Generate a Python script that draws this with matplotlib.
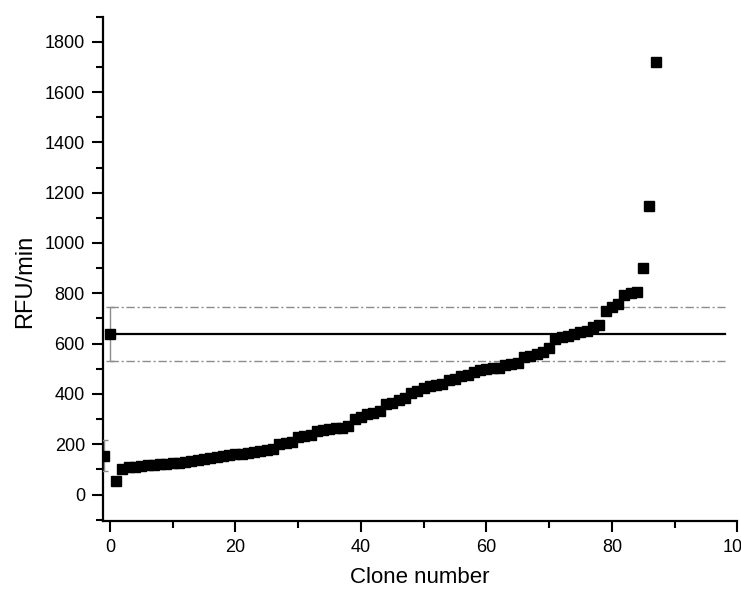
import numpy as np
import matplotlib.pyplot as plt
from matplotlib.ticker import MultipleLocator

# activity of each clone, sorted ascending (RFU/min)
clone_rfu = [55, 100, 108, 110, 113, 116, 118, 121, 123, 125,
             127, 130, 134, 138, 141, 144, 148, 152, 156, 160,
             163, 166, 170, 173, 177, 182, 200, 203, 207, 229,
             232, 236, 252, 258, 262, 264, 266, 272, 302, 310,
             322, 326, 332, 358, 362, 377, 385, 403, 410, 424,
             430, 437, 440, 454, 458, 470, 475, 486, 495, 499,
             502, 505, 515, 518, 521, 545, 550, 560, 565, 583,
             620, 627, 632, 640, 645, 650, 665, 672, 728, 745,
             759, 792, 800, 805, 900, 1148, 1720]
clone_no = np.arange(1, len(clone_rfu) + 1)

# parent (x = 0) and negative control (x = -1), mean and SD
parent_x, parent_mean, parent_sd = 0, 637, 108
control_x, control_mean, control_sd = -1, 155, 60
line_end = 98

plt.rc('font', family=['Liberation Sans', 'DejaVu Sans'])

fig = plt.figure(figsize=(7.41, 5.92), dpi=100)
ax = fig.add_axes([0.139, 0.12, 0.856, 0.852])

# mean +/- SD of the parent
ax.plot([parent_x, line_end], [parent_mean, parent_mean], color='black', lw=1.6, zorder=2)
for y in (parent_mean + parent_sd, parent_mean - parent_sd):
    ax.plot([parent_x, line_end], [y, y], color='#8c8c8c', lw=1.0,
            linestyle=(0, (6, 2, 1.5, 2)), zorder=2)

# controls with error bars
ax.errorbar([control_x, parent_x], [control_mean, parent_mean],
            yerr=[control_sd, parent_sd], fmt='s', color='black', ms=7.5,
            ecolor='#8c8c8c', elinewidth=1.0, capsize=3, capthick=1.0, zorder=3)

# clones
ax.plot(clone_no, clone_rfu, 's', color='black', ms=7.5, zorder=4)

ax.set_xlim(-1.1, 100)
ax.set_ylim(-105, 1900)
ax.xaxis.set_major_locator(MultipleLocator(20))
ax.xaxis.set_minor_locator(MultipleLocator(10))
ax.yaxis.set_major_locator(MultipleLocator(200))
ax.yaxis.set_minor_locator(MultipleLocator(100))

for side in ('top', 'right'):
    ax.spines[side].set_visible(False)
for side in ('left', 'bottom'):
    ax.spines[side].set_linewidth(1.6)

ax.tick_params(which='major', direction='out', length=8, width=1.5, labelsize=13, pad=5)
ax.tick_params(which='minor', direction='out', length=5, width=1.5)

ax.set_xlabel('Clone number', fontsize=16, labelpad=8)
ax.set_ylabel('RFU/min', fontsize=17)
ax.yaxis.set_label_coords(-0.105, 0.475)

plt.savefig('out.png', dpi=100)
